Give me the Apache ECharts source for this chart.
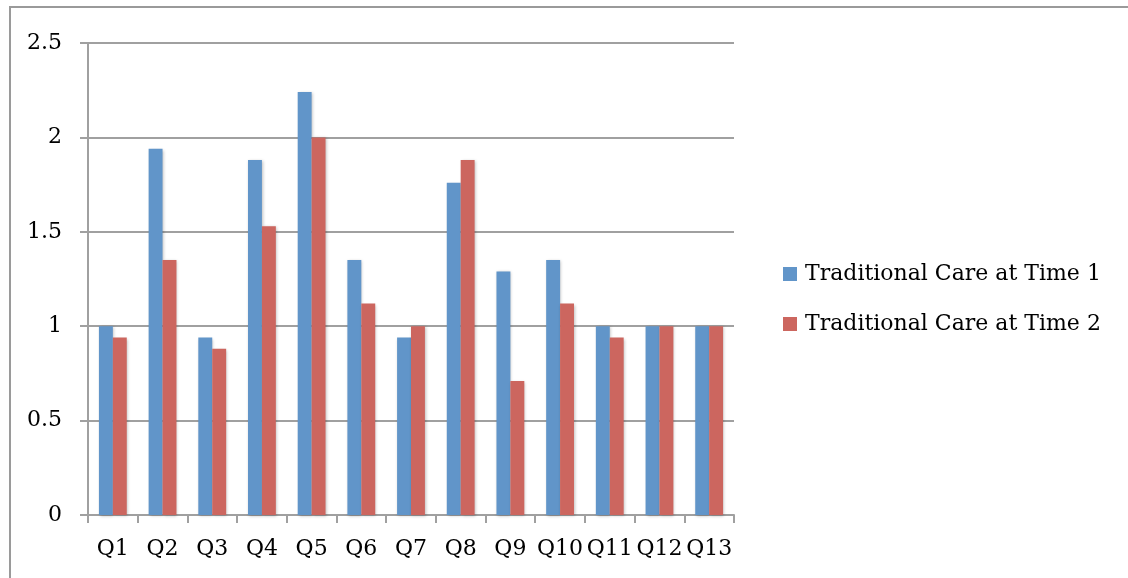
<!DOCTYPE html>
<html>
<head>
<meta charset="utf-8">
<script src="https://cdn.jsdelivr.net/npm/echarts@6/dist/echarts.min.js"></script>
<style>
  html, body { margin: 0; padding: 0; background: #fff; }
  #chart { width: 1128px; height: 578px; }
</style>
</head>
<body>
<div id="chart"></div>
<script>
const questions = ['Q1', 'Q2', 'Q3', 'Q4', 'Q5', 'Q6', 'Q7', 'Q8', 'Q9', 'Q10', 'Q11', 'Q12', 'Q13'];
const time1 = [1, 1.94, 0.94, 1.88, 2.24, 1.35, 0.94, 1.76, 1.29, 1.35, 1, 1, 1];
const time2 = [0.94, 1.35, 0.88, 1.53, 2, 1.12, 1, 1.88, 0.71, 1.12, 0.94, 1, 1];
const seriesNames = ['Traditional Care at Time 1', 'Traditional Care at Time 2'];

const font = 'DejaVu Serif';
const gray = '#a0a0a0';

const myChart = echarts.init(document.getElementById('chart'));

const barShadow = {
  shadowBlur: 3,
  shadowColor: 'rgba(0,0,0,0.25)',
  shadowOffsetX: 1,
  shadowOffsetY: 1
};

const option = {
  animation: false,
  backgroundColor: '#fff',
  graphic: [{
    type: 'rect',
    shape: { x: 10, y: 7, width: 1300, height: 800 },
    style: { fill: 'none', stroke: '#9a9a9a', lineWidth: 2 },
    silent: true
  }],
  grid: {
    left: 88,
    right: 394,
    top: 43,
    bottom: 63
  },
  legend: {
    orient: 'vertical',
    left: 783,
    top: 263,
    padding: 0,
    itemWidth: 14,
    itemHeight: 14,
    itemGap: 28,
    icon: 'rect',
    textStyle: { fontFamily: font, fontSize: 22, color: '#000', padding: [0, 0, 0, 3] },
    data: seriesNames
  },
  xAxis: {
    type: 'category',
    data: questions,
    axisLine: { lineStyle: { color: gray, width: 2 } },
    axisTick: { show: true, length: 8, lineStyle: { color: gray, width: 2 } },
    axisLabel: { fontFamily: font, fontSize: 22, color: '#000', margin: 23, interval: 0 }
  },
  yAxis: {
    type: 'value',
    min: 0,
    max: 2.5,
    interval: 0.5,
    axisLine: { show: true, lineStyle: { color: gray, width: 2 } },
    axisTick: { show: true, length: 8, lineStyle: { color: gray, width: 2 } },
    axisLabel: { fontFamily: font, fontSize: 22, color: '#000', margin: 26 },
    splitLine: { lineStyle: { color: gray, width: 2 } }
  },
  series: [
    {
      name: seriesNames[0],
      type: 'bar',
      data: time1,
      barGap: '0%',
      barCategoryGap: '44%',
      itemStyle: Object.assign({ color: '#6195c9' }, barShadow)
    },
    {
      name: seriesNames[1],
      type: 'bar',
      data: time2,
      itemStyle: Object.assign({ color: '#cc665f' }, barShadow)
    }
  ]
};

myChart.setOption(option);
</script>
</body>
</html>
